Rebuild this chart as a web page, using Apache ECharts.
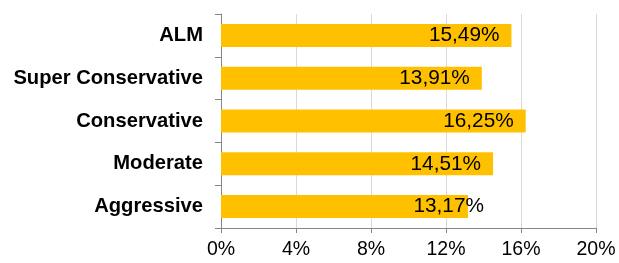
<!DOCTYPE html>
<html>
<head>
<meta charset="utf-8">
<script src="https://cdn.jsdelivr.net/npm/echarts@6/dist/echarts.min.js"></script>
<style>
html,body{margin:0;padding:0;background:#fff;}
#c{width:619px;height:263px;}
</style>
</head>
<body>
<div id="c"></div>
<script>
var categories = ['ALM', 'Super Conservative', 'Conservative', 'Moderate', 'Aggressive'];
var values = [15.49, 13.91, 16.25, 14.51, 13.17];
var xTicks = [0, 4, 8, 12, 16, 20];

var chart = echarts.init(document.getElementById('c'), null, {renderer: 'canvas'});
var seriesData = values.map(function (v, i) {
  var item = {value: v};
  if (categories[i] === 'Aggressive') {
    item.label = {offset: [28, 0]};
  }
  return item;
});
chart.setOption({
  animation: false,
  backgroundColor: '#ffffff',
  grid: {left: 221, right: 23, top: 14, bottom: 35, containLabel: false},
  xAxis: {
    type: 'value',
    min: xTicks[0],
    max: xTicks[xTicks.length - 1],
    interval: 4,
    axisLine: {show: true, lineStyle: {color: '#868686', width: 1}},
    axisTick: {show: true, length: 5, lineStyle: {color: '#868686'}},
    splitLine: {show: true, lineStyle: {color: '#d9d9d9', width: 1}},
    axisLabel: {
      margin: 12,
      color: '#000',
      fontFamily: 'Liberation Sans, Arial, sans-serif',
      fontSize: 19.5,
      formatter: function (v) { return v + '%'; }
    }
  },
  yAxis: {
    type: 'category',
    inverse: true,
    data: categories,
    axisLine: {show: true, lineStyle: {color: '#868686', width: 1}},
    axisTick: {show: true, length: 6, lineStyle: {color: '#868686'}},
    splitLine: {show: false},
    axisLabel: {
      margin: 18,
      color: '#000',
      fontFamily: 'Liberation Sans, Arial, sans-serif',
      fontWeight: 'bold',
      fontSize: 20.2
    }
  },
  series: [{
    type: 'bar',
    data: seriesData,
    barWidth: 23,
    itemStyle: {color: '#FFC000'},
    label: {
      show: true,
      position: 'insideRight',
      distance: 12,
      color: '#000',
      fontFamily: 'Liberation Sans, Arial, sans-serif',
      fontSize: 20.8,
      formatter: function (p) { return p.value.toFixed(2).replace('.', ',') + '%'; }
    }
  }]
});
</script>
</body>
</html>
